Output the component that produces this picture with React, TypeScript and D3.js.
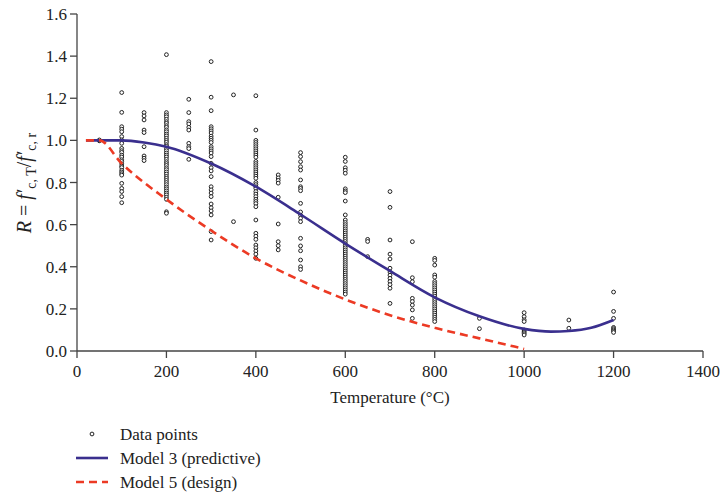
import React from "react";
import * as d3 from "d3";

const xTicks = [0, 200, 400, 600, 800, 1000, 1200, 1400];
const yTicks = [0, 0.2, 0.4, 0.6, 0.8, 1.0, 1.2, 1.4, 1.6];

// Model 3 (predictive) curve
const model3T = [20, 100, 150, 200, 300, 400, 500, 600, 700, 800, 900, 1000, 1060, 1100, 1150, 1200];
const model3R = [1.0, 1.0, 0.99, 0.97, 0.89, 0.78, 0.648, 0.51, 0.38, 0.255, 0.165, 0.105, 0.092, 0.095, 0.11, 0.147];

// Model 5 (design) curve
const model5T = [20, 50, 100, 200, 300, 400, 500, 600, 700, 800, 900, 1000];
const model5R = [1.0, 1.0, 0.89, 0.72, 0.572, 0.44, 0.335, 0.245, 0.17, 0.11, 0.06, 0.01];

// Data points: temperature columns and their measured ratios
const colTemps = [50, 100, 150, 200, 250, 300, 350, 400, 450, 500, 600, 650, 700, 750, 800, 900, 1000, 1100, 1200];
const colValues: number[][] = [
  [1.0, 0.998, 1.002],
  [1.227, 1.133, 1.065, 1.053, 1.041, 1.018, 1.002, 0.986, 0.962, 0.951, 0.943, 0.93, 0.921, 0.908, 0.9, 0.889, 0.878, 0.871, 0.858, 0.85, 0.842, 0.835, 0.796, 0.772, 0.757, 0.733, 0.704],
  [1.132, 1.116, 1.097, 1.049, 1.037, 0.97, 0.926, 0.915, 0.904],
  [1.407, 1.132, 1.121, 1.112, 1.1, 1.089, 1.081, 1.07, 1.062, 1.05, 1.041, 1.03, 1.021, 1.01, 1.0, 0.991, 0.98, 0.972, 0.96, 0.951, 0.94, 0.93, 0.921, 0.91, 0.899, 0.89, 0.881, 0.87, 0.861, 0.85, 0.84, 0.829, 0.82, 0.81, 0.8, 0.79, 0.779, 0.77, 0.76, 0.75, 0.741, 0.73, 0.72, 0.661, 0.654],
  [1.195, 1.132, 1.089, 1.078, 1.062, 1.049, 0.986, 0.97, 0.961, 0.91],
  [1.374, 1.205, 1.141, 1.065, 1.055, 1.045, 1.035, 1.02, 1.01, 1.0, 0.99, 0.97, 0.96, 0.95, 0.94, 0.923, 0.891, 0.87, 0.855, 0.828, 0.78, 0.765, 0.75, 0.733, 0.698, 0.68, 0.665, 0.646, 0.567, 0.527],
  [1.216, 0.614],
  [1.212, 1.049, 1.0, 0.99, 0.98, 0.97, 0.96, 0.95, 0.94, 0.93, 0.92, 0.9, 0.89, 0.88, 0.87, 0.86, 0.85, 0.84, 0.83, 0.82, 0.8, 0.79, 0.78, 0.772, 0.757, 0.745, 0.733, 0.72, 0.71, 0.7, 0.685, 0.622, 0.559, 0.545, 0.53, 0.503, 0.49, 0.475, 0.46, 0.44],
  [0.836, 0.822, 0.81, 0.797, 0.73, 0.603, 0.519, 0.5, 0.48],
  [0.942, 0.923, 0.899, 0.875, 0.859, 0.812, 0.78, 0.772, 0.761, 0.701, 0.66, 0.645, 0.63, 0.614, 0.535, 0.499, 0.476, 0.432, 0.4, 0.387],
  [0.92, 0.9, 0.87, 0.858, 0.844, 0.77, 0.76, 0.752, 0.712, 0.646, 0.622, 0.61, 0.6, 0.59, 0.58, 0.57, 0.56, 0.55, 0.54, 0.53, 0.52, 0.51, 0.5, 0.49, 0.48, 0.47, 0.46, 0.45, 0.44, 0.43, 0.42, 0.41, 0.4, 0.39, 0.38, 0.37, 0.36, 0.35, 0.34, 0.33, 0.32, 0.31, 0.3, 0.29, 0.28, 0.27],
  [0.53, 0.52, 0.448],
  [0.757, 0.682, 0.527, 0.46, 0.437, 0.393, 0.375, 0.36, 0.345, 0.33, 0.315, 0.298, 0.226],
  [0.519, 0.348, 0.329, 0.25, 0.235, 0.218, 0.195, 0.155],
  [0.44, 0.43, 0.408, 0.361, 0.35, 0.33, 0.32, 0.31, 0.3, 0.29, 0.28, 0.27, 0.26, 0.25, 0.24, 0.23, 0.22, 0.21, 0.2, 0.19, 0.18, 0.17, 0.16, 0.15, 0.14],
  [0.155, 0.106],
  [0.182, 0.163, 0.148, 0.14, 0.1, 0.094, 0.088, 0.082, 0.076],
  [0.147, 0.108],
  [0.28, 0.188, 0.155, 0.112, 0.106, 0.1, 0.094, 0.088],
];

const W = 722;
const H = 495;
const FONT = "'Liberation Serif', 'DejaVu Serif', serif";
const BLUE = "#3a2f8e";
const RED = "#ec3a24";
const AXIS = "#444";

export default function App() {
  const x = d3.scaleLinear().domain([0, 1400]).range([77, 703]);
  const y = d3.scaleLinear().domain([0, 1.6]).range([351, 14]);

  const line = d3
    .line<[number, number]>()
    .x((d) => x(d[0]))
    .y((d) => y(d[1]))
    .curve(d3.curveMonotoneX);

  const m3 = line(model3T.map((t, i) => [t, model3R[i]] as [number, number])) || "";
  const m5 = line(model5T.map((t, i) => [t, model5R[i]] as [number, number])) || "";

  const points: { t: number; r: number }[] = [];
  colTemps.forEach((t, i) => colValues[i].forEach((r) => points.push({ t, r })));

  return (
    <svg
      width={W}
      height={H}
      style={{ position: "absolute", left: 0, top: 0, background: "#fff" }}
      fontFamily={FONT}
    >
      {/* axes */}
      <line x1={x(0)} x2={x(1400)} y1={y(0)} y2={y(0)} stroke={AXIS} strokeWidth={1.3} />
      <line x1={x(0)} x2={x(0)} y1={y(0)} y2={y(1.6)} stroke={AXIS} strokeWidth={1.3} />
      {xTicks.map((t) => (
        <g key={"xt" + t}>
          <line x1={x(t)} x2={x(t)} y1={y(0)} y2={y(0) + 7} stroke={AXIS} strokeWidth={1.3} />
          <text x={x(t)} y={y(0) + 26} textAnchor="middle" fontSize={17} fill="#222">
            {t}
          </text>
        </g>
      ))}
      {yTicks.map((v) => (
        <g key={"yt" + v}>
          <line x1={x(0) - 7} x2={x(0)} y1={y(v)} y2={y(v)} stroke={AXIS} strokeWidth={1.3} />
          <text x={x(0) - 10} y={y(v) + 6} textAnchor="end" fontSize={17} fill="#222">
            {v.toFixed(1)}
          </text>
        </g>
      ))}

      {/* axis titles */}
      <text x={390} y={403} textAnchor="middle" fontSize={17} fill="#222">
        Temperature (°C)
      </text>
      <text
        transform={`translate(31, 183) rotate(-90)`}
        textAnchor="middle"
        fontSize={20}
        fill="#222"
      >
        <tspan fontStyle="italic">R</tspan>
        <tspan> = </tspan>
        <tspan fontStyle="italic">f</tspan>
        <tspan dx={1}>′</tspan>
        <tspan fontSize={14} dy={5}>c, T</tspan>
        <tspan dy={-5}>/</tspan>
        <tspan fontStyle="italic">f</tspan>
        <tspan dx={1}>′</tspan>
        <tspan fontSize={14} dy={5}>c, r</tspan>
      </text>

      {/* data points */}
      {points.map((p, i) => (
        <circle
          key={"p" + i}
          cx={x(p.t)}
          cy={y(p.r)}
          r={1.9}
          fill="#fff"
          stroke="#222"
          strokeWidth={1}
        />
      ))}

      {/* model curves */}
      <path d={m3} fill="none" stroke={BLUE} strokeWidth={2.6} />
      <path d={m5} fill="none" stroke={RED} strokeWidth={2.6} strokeDasharray="8,5" />

      {/* legend */}
      <circle cx={92} cy={434} r={1.9} fill="#fff" stroke="#222" strokeWidth={1} />
      <text x={120} y={440} fontSize={17} fill="#222">Data points</text>
      <line x1={76} x2={108} y1={458} y2={458} stroke={BLUE} strokeWidth={2.6} />
      <text x={120} y={464} fontSize={17} fill="#222">Model 3 (predictive)</text>
      <line x1={76} x2={108} y1={482} y2={482} stroke={RED} strokeWidth={2.6} strokeDasharray="8,5" />
      <text x={120} y={488} fontSize={17} fill="#222">Model 5 (design)</text>
    </svg>
  );
}
